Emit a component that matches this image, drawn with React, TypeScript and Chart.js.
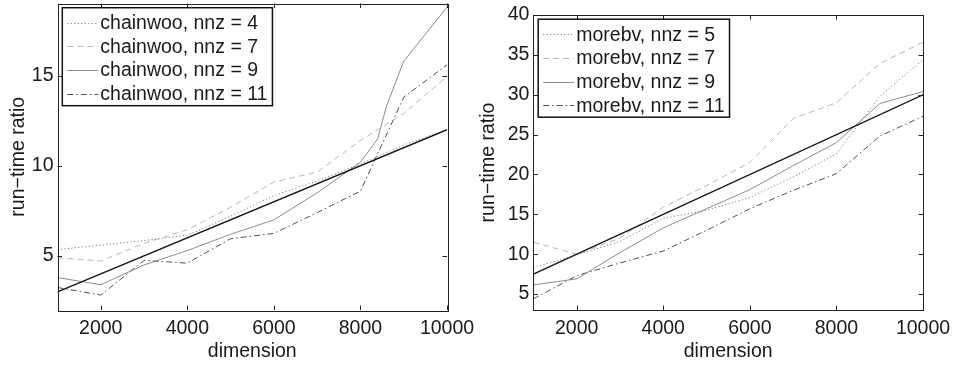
import React, { useEffect, useRef } from "react";
import { Chart, registerables } from "chart.js";

Chart.register(...registerables);

// ---------- data ----------
const dimension = [1000, 2000, 3000, 4000, 5000, 6000, 7000, 8000, 9000, 10000];
const chainwooDimNnz9 = [1000, 2000, 3000, 4000, 5000, 6000, 7000, 8000, 8400, 8600, 9000, 10000];
const fitDimension = [1000, 10000];

const chainwooNnz4 = [5.35, 5.6, 5.85, 6.15, 7.2, 8.35, 9.15, 10.1, 11.15, 12.0];
const chainwooNnz7 = [4.9, 4.72, 5.7, 6.45, 7.7, 9.1, 9.65, 11.4, 12.9, 14.95];
const chainwooNnz9 = [3.8, 3.4, 4.5, 5.3, 6.2, 7.0, 8.5, 10.2, 11.5, 13.3, 15.8, 18.8];
const chainwooNnz11 = [3.25, 2.83, 4.75, 4.6, 5.95, 6.25, 7.4, 8.6, 13.8, 15.6];
const chainwooFit = [3, 12];

const morebvNnz5 = [8.3, 9.9, 11.6, 14.5, 15.5, 17.1, 19.7, 22.6, 29.8, 34.4];
const morebvNnz7 = [11.5, 10.0, 12.0, 15.9, 18.6, 21.5, 27.0, 29.0, 33.9, 36.6];
const morebvNnz9 = [6.15, 6.9, 10.2, 13.3, 15.7, 18.1, 21.1, 24.0, 28.9, 30.4];
const morebvNnz11 = [4.4, 7.3, 8.9, 10.4, 13.0, 15.7, 18.0, 20.1, 24.8, 27.3];
const morebvFit = [7.5, 30];

const xTicks = [2000, 4000, 6000, 8000, 10000];
const chainwooYTicks = [5, 10, 15];
const morebvYTicks = [5, 10, 15, 20, 25, 30, 35, 40];

const chainwooLabels = ["chainwoo, nnz = 4", "chainwoo, nnz = 7", "chainwoo, nnz = 9", "chainwoo, nnz = 11"];
const morebvLabels = ["morebv, nnz = 5", "morebv, nnz = 7", "morebv, nnz = 9", "morebv, nnz = 11"];

// ---------- styles ----------
const FONT = '"Liberation Sans", Arial, Helvetica, sans-serif';
const FS = 19.5;
const TEXT = "#1a1a1a";
const lineStyles = [
  { color: "#6a6a6a", dash: [1, 2.5] },
  { color: "#b8b8b8", dash: [6, 4] },
  { color: "#8c8c8c", dash: [] as number[] },
  { color: "#4f4f4f", dash: [6, 3, 1.5, 3] },
];

const pts = (xs: number[], ys: number[]) => xs.map((x, i) => ({ x, y: ys[i] }));

const matlabPlugin = {
  id: "matlabFrame",
  afterDatasetsDraw(chart: any, _args: any, opts: any) {
    const { ctx, chartArea: a, scales } = chart;
    const xs = scales.x;
    const ys = scales.y;
    ctx.save();
    ctx.strokeStyle = "#222";
    ctx.lineWidth = 1;
    ctx.setLineDash([]);
    const tl = 4.5;
    ctx.beginPath();
    xs.ticks.forEach((t: any) => {
      const px = Math.round(xs.getPixelForValue(t.value)) + 0.5;
      ctx.moveTo(px, a.bottom);
      ctx.lineTo(px, a.bottom - tl);
      ctx.moveTo(px, a.top);
      ctx.lineTo(px, a.top + tl);
    });
    ys.ticks.forEach((t: any) => {
      const py = Math.round(ys.getPixelForValue(t.value)) + 0.5;
      ctx.moveTo(a.left, py);
      ctx.lineTo(a.left + tl, py);
      ctx.moveTo(a.right, py);
      ctx.lineTo(a.right - tl, py);
    });
    ctx.stroke();
    ctx.strokeRect(Math.round(a.left) + 0.5, Math.round(a.top) + 0.5, Math.round(a.right - a.left), Math.round(a.bottom - a.top));

    // legend
    const items = chart.data.datasets.filter((d: any) => d.showInLegend);
    ctx.font = `${FS}px ${FONT}`;
    const maxW = Math.max(...items.map((d: any) => ctx.measureText(d.label).width));
    const bx = a.left + 4.8;
    const by = a.top + 4.2;
    const textOff = 38;
    const bw = textOff + maxW + 5;
    const rowH = 23.7;
    const bh = 98;
    ctx.fillStyle = "#ffffff";
    ctx.fillRect(bx, by, bw, bh);
    ctx.lineWidth = 1.5;
    ctx.strokeStyle = "#111";
    ctx.strokeRect(bx, by, bw, bh);
    items.forEach((d: any, i: number) => {
      const cy = by + 15 + i * rowH;
      ctx.save();
      ctx.strokeStyle = d.borderColor;
      ctx.lineWidth = 1;
      ctx.setLineDash(d.borderDash || []);
      ctx.beginPath();
      ctx.moveTo(bx + 5, Math.round(cy) + 0.5);
      ctx.lineTo(bx + 36, Math.round(cy) + 0.5);
      ctx.stroke();
      ctx.restore();
      ctx.fillStyle = TEXT;
      ctx.textBaseline = "middle";
      ctx.textAlign = "left";
      ctx.fillText(d.label, bx + textOff, cy + 1);
    });
    ctx.restore();
  },
};

type PanelSpec = {
  labels: string[];
  seriesX: number[][];
  seriesY: number[][];
  fitY: number[];
  yMin: number;
  yMax: number;
  yTicks: number[];
  areaLeft: number;
  padTop: number;
  padRight: number;
  yTitlePad: number;
};

function buildConfig(p: PanelSpec): any {
  const datasets: any[] = p.labels.map((label, i) => ({
    label,
    showInLegend: true,
    data: pts(p.seriesX[i], p.seriesY[i]),
    borderColor: lineStyles[i].color,
    borderDash: lineStyles[i].dash,
    borderWidth: 1,
    pointRadius: 0,
    tension: 0,
    fill: false,
  }));
  datasets.push({
    label: "fit",
    showInLegend: false,
    data: pts(fitDimension, p.fitY),
    borderColor: "#111111",
    borderWidth: 1.3,
    pointRadius: 0,
    tension: 0,
    fill: false,
    order: -1,
  });
  return {
    type: "line",
    data: { datasets },
    plugins: [matlabPlugin],
    options: {
      animation: false,
      responsive: false,
      devicePixelRatio: 1,
      layout: { padding: { top: p.padTop, right: p.padRight, left: 0, bottom: 0 } },
      plugins: { legend: { display: false }, tooltip: { enabled: false } },
      scales: {
        x: {
          type: "linear",
          min: 1000,
          max: 10000,
          afterBuildTicks: (s: any) => {
            s.ticks = xTicks.map((v) => ({ value: v }));
          },
          afterFit: (s: any) => {
            s.height = 56;
            s.paddingLeft = 0;
            s.paddingRight = 0;
          },
          grid: { display: false, drawTicks: false },
          border: { display: false },
          ticks: {
            font: { family: FONT, size: FS },
            color: TEXT,
            padding: 6.5,
            maxRotation: 0,
            autoSkip: false,
            callback: (v: any) => String(v),
          },
          title: {
            display: true,
            text: "dimension",
            font: { family: FONT, size: FS },
            color: TEXT,
            padding: { top: 0, bottom: 2.6 },
          },
        },
        y: {
          type: "linear",
          min: p.yMin,
          max: p.yMax,
          afterBuildTicks: (s: any) => {
            s.ticks = p.yTicks.map((v) => ({ value: v }));
          },
          afterFit: (s: any) => {
            s.width = p.areaLeft;
            s.paddingTop = 0;
            s.paddingBottom = 0;
          },
          grid: { display: false, drawTicks: false },
          border: { display: false },
          ticks: {
            font: { family: FONT, size: FS },
            color: TEXT,
            padding: 4,
            autoSkip: false,
            callback: (v: any) => String(v),
          },
          title: {
            display: true,
            text: "run\u2212time ratio",
            font: { family: FONT, size: FS },
            color: TEXT,
            padding: { top: p.yTitlePad, bottom: 0 },
          },
        },
      },
    },
  };
}

const leftSpec: PanelSpec = {
  labels: chainwooLabels,
  seriesX: [dimension, dimension, chainwooDimNnz9, dimension],
  seriesY: [chainwooNnz4, chainwooNnz7, chainwooNnz9, chainwooNnz11],
  fitY: chainwooFit,
  yMin: 2,
  yMax: 19,
  yTicks: chainwooYTicks,
  areaLeft: 57.5,
  padTop: 3.5,
  padRight: 29,
  yTitlePad: 6.6,
};

const rightSpec: PanelSpec = {
  labels: morebvLabels,
  seriesX: [dimension, dimension, dimension, dimension],
  seriesY: [morebvNnz5, morebvNnz7, morebvNnz9, morebvNnz11],
  fitY: morebvFit,
  yMin: 3,
  yMax: 40,
  yTicks: morebvYTicks,
  areaLeft: 57.4,
  padTop: 15,
  padRight: 30,
  yTitlePad: 1.3,
};

function Panel({ spec, left, width }: { spec: PanelSpec; left: number; width: number }) {
  const ref = useRef<HTMLCanvasElement>(null);
  useEffect(() => {
    const chart = new Chart(ref.current as HTMLCanvasElement, buildConfig(spec));
    return () => chart.destroy();
  }, []);
  return (
    <canvas
      ref={ref}
      width={width}
      height={366}
      style={{ position: "absolute", left, top: 0, width: `${width}px`, height: "366px" }}
    />
  );
}

export default function App() {
  return (
    <div style={{ position: "absolute", left: 0, top: 0, width: 953, height: 366, background: "#fff" }}>
      <Panel spec={leftSpec} left={0} width={476} />
      <Panel spec={rightSpec} left={476} width={477} />
    </div>
  );
}
